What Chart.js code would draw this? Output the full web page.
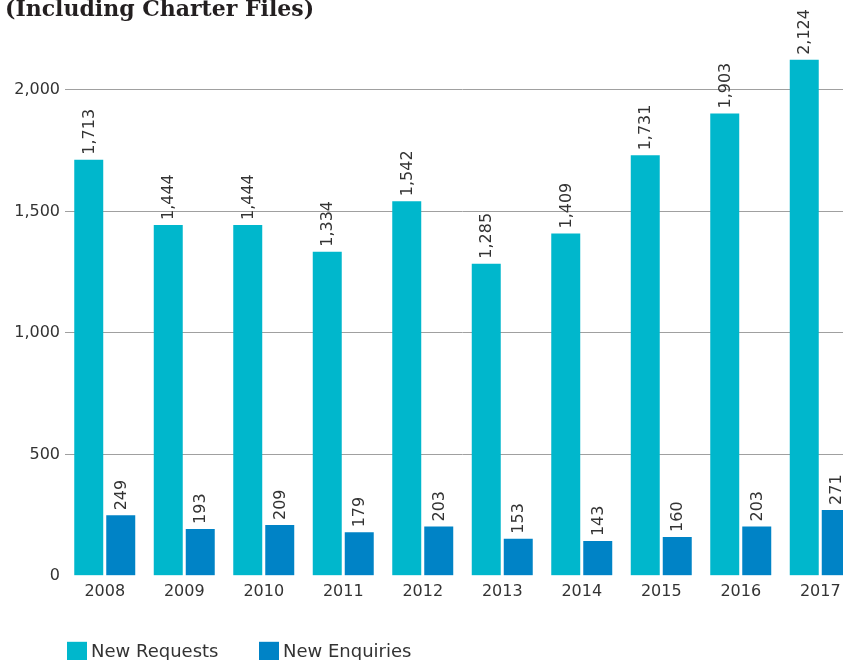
<!DOCTYPE html>
<html>
<head>
<meta charset="utf-8">
<script src="https://cdn.jsdelivr.net/npm/chart.js@4.4.0/dist/chart.umd.min.js"></script>
<style>
  html, body { margin: 0; padding: 0; background: #fff; overflow: hidden; }
  #wrap { position: relative; width: 843px; height: 660px; overflow: hidden; }
  #box { position: absolute; left: 0; top: 0; width: 862px; height: 660px; }
</style>
</head>
<body>
<div id="wrap"><div id="box"><canvas id="chart"></canvas></div></div>
<script>
const years = ['2008', '2009', '2010', '2011', '2012', '2013', '2014', '2015', '2016', '2017'];
const newRequests = [1713, 1444, 1444, 1334, 1542, 1285, 1409, 1731, 1903, 2124];
const newEnquiries = [249, 193, 209, 179, 203, 153, 143, 160, 203, 271];
const yTicks = [0, 500, 1000, 1500, 2000];

const textColor = '#333333';
const sans = "'DejaVu Sans', sans-serif";

// value labels, rotated, above each bar
const barLabels = {
    id: 'barLabels',
    afterDatasetsDraw(chart) {
        const ctx = chart.ctx;
        ctx.save();
        ctx.fillStyle = textColor;
        ctx.font = '16px ' + sans;
        ctx.textAlign = 'left';
        ctx.textBaseline = 'middle';
        chart.data.datasets.forEach((ds, i) => {
            chart.getDatasetMeta(i).data.forEach((bar, j) => {
                ctx.save();
                ctx.translate(bar.x + 1, bar.y - 5);
                ctx.rotate(-Math.PI / 2);
                ctx.fillText(ds.data[j].toLocaleString('en-US'), 0, 0);
                ctx.restore();
            });
        });
        ctx.restore();
    }
};

// legend at the bottom, square swatches
const bottomLegend = {
    id: 'bottomLegend',
    afterDraw(chart) {
        const ctx = chart.ctx;
        const area = chart.chartArea;
        const top = area.bottom + 66;
        ctx.save();
        ctx.font = '18px ' + sans;
        ctx.textBaseline = 'middle';
        ctx.textAlign = 'left';
        chart.data.datasets.forEach((ds, i) => {
            const x = area.left + 2 + i * 192;
            ctx.fillStyle = ds.backgroundColor;
            ctx.fillRect(x, top, 20, 20);
            ctx.fillStyle = textColor;
            ctx.fillText(ds.label, x + 24, top + 11);
        });
        ctx.restore();
    }
};

const ctx = document.getElementById('chart').getContext('2d');
new Chart(ctx, {
    type: 'bar',
    data: {
        labels: years,
        datasets: [{
            label: 'New Requests',
            data: newRequests,
            backgroundColor: '#00b7cc'
        }, {
            label: 'New Enquiries',
            data: newEnquiries,
            backgroundColor: '#0083c6'
        }]
    },
    options: {
        responsive: true,
        maintainAspectRatio: false,
        animation: false,
        categoryPercentage: 0.805,
        barPercentage: 0.906,
        layout: {
            padding: { left: 5, right: 2, top: 0, bottom: 61 }
        },
        scales: {
            x: {
                grid: { display: false },
                border: { display: false },
                ticks: {
                    color: textColor,
                    padding: -2,
                    font: { family: sans, size: 16 }
                }
            },
            y: {
                min: 0,
                max: 2200,
                afterFit: function(scale) {
                    scale.width = 60;
                },
                afterBuildTicks: function(scale) {
                    scale.ticks = yTicks.map(v => ({ value: v }));
                },
                border: { display: false },
                grid: {
                    drawTicks: false,
                    color: function(c) {
                        return c.tick && c.tick.value === 0 ? 'rgba(0,0,0,0)' : '#a0a0a0';
                    },
                    lineWidth: 1
                },
                ticks: {
                    color: textColor,
                    padding: 5,
                    font: { family: sans, size: 16 },
                    callback: function(value) {
                        return value.toLocaleString('en-US');
                    }
                }
            }
        },
        plugins: {
            legend: { display: false },
            tooltip: { enabled: false },
            title: {
                display: true,
                text: '(Including Charter Files)',
                align: 'start',
                color: '#231f20',
                font: { family: "'DejaVu Serif', serif", size: 22, weight: 'bold', lineHeight: 1.2 },
                padding: { top: -3, bottom: 18 }
            }
        }
    },
    plugins: [barLabels, bottomLegend]
});
</script>
</body>
</html>
